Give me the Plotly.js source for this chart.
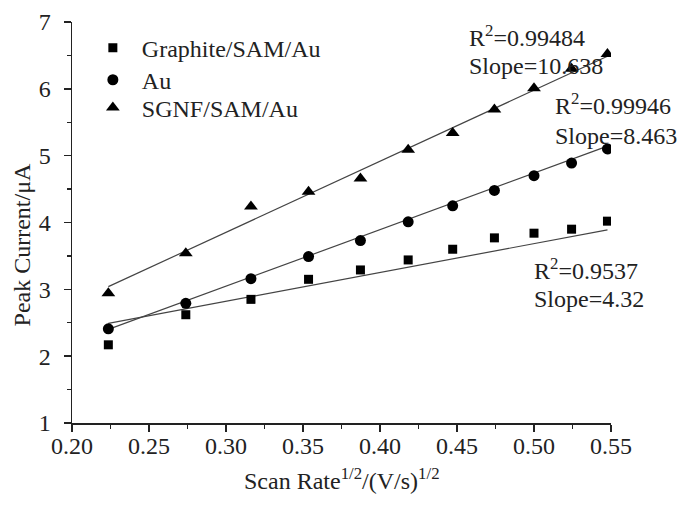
<!DOCTYPE html>
<html>
<head>
<meta charset="utf-8">
<script src="https://cdn.plot.ly/plotly-3.0.1.min.js"></script>
<style>html,body{margin:0;padding:0;background:#fff;}#chart{width:680px;height:506px;}</style>
</head>
<body>
<div id="chart"></div>
<script>
// Data
const scanRate = [0.2236, 0.2739, 0.3162, 0.3536, 0.3873, 0.4183, 0.4472, 0.4743, 0.5000, 0.5244, 0.5477];
const graphite = [2.17, 2.62, 2.85, 3.15, 3.29, 3.44, 3.60, 3.77, 3.84, 3.90, 4.02];
const au       = [2.41, 2.79, 3.16, 3.49, 3.73, 4.01, 4.25, 4.48, 4.70, 4.89, 5.10];
const sgnf     = [2.94, 3.54, 4.24, 4.46, 4.66, 5.09, 5.34, 5.69, 6.01, 6.30, 6.52];
const seriesNames = ["Graphite/SAM/Au", "Au", "SGNF/SAM/Au"];
// fit lines: value at first x and slope (from annotations)
const fitStart = [2.49, 2.40, 3.04];
const fitSlope = [4.32, 8.463, 10.638];
const r2Labels = ["0.9537", "0.99946", "0.99484"];
const slopeLabels = ["4.32", "8.463", "10.638"];

const FONT = "'Liberation Serif', 'DejaVu Serif', serif";
const FS = 24;
const ys = [graphite, au, sgnf];
const symbols = ["square", "circle", "triangle-up"];
const sizes = [9, 11, 12];
const legendIds = ["legend", "legend2", "legend3"];

const traces = [];
const xFit = [scanRate[0], scanRate[scanRate.length - 1]];
for (let i = 0; i < 3; i++) {
  traces.push({
    x: xFit,
    y: xFit.map(x => fitStart[i] + fitSlope[i] * (x - xFit[0])),
    mode: "lines", type: "scatter", showlegend: false, hoverinfo: "skip",
    line: {color: "#444", width: 1.2}
  });
}
for (let i = 0; i < 3; i++) {
  traces.push({
    x: scanRate, y: ys[i], name: seriesNames[i], legend: legendIds[i],
    mode: "markers", type: "scatter",
    marker: {symbol: symbols[i], size: sizes[i], color: "#000"}
  });
}

const annFont = {family: FONT, size: FS, color: "#222"};
function ann(x, y, text) {
  return {x: x, y: y, xref: "x", yref: "y", text: text, showarrow: false,
          xanchor: "left", yanchor: "middle", font: annFont};
}
function leg(y) {
  return {x: 0.022, y: y, xanchor: "left", yanchor: "middle", bgcolor: "rgba(0,0,0,0)",
          itemwidth: 48, font: {family: FONT, size: FS, color: "#222"}};
}
const layout = {
  width: 680, height: 506,
  margin: {l: 72, r: 69, t: 22, b: 83},
  paper_bgcolor: "#fff", plot_bgcolor: "#fff",
  font: {family: FONT, size: FS, color: "#222"},
  xaxis: {
    range: [0.2, 0.55], dtick: 0.05, tick0: 0.2, tickformat: ".2f",
    showgrid: false, zeroline: false, showline: true, linecolor: "#222", linewidth: 1.5,
    ticks: "outside", ticklen: 7, tickwidth: 1.5, tickcolor: "#222",
    ticklabelstandoff: -6,
    minor: {dtick: 0.025, ticks: "outside", ticklen: 4, tickwidth: 1.2, tickcolor: "#222", showgrid: false},
    tickfont: {family: FONT, size: FS, color: "#222"}
  },
  yaxis: {
    range: [1, 7], dtick: 1,
    showgrid: false, zeroline: false, showline: true, linecolor: "#222", linewidth: 1.5,
    ticks: "outside", ticklen: 7, tickwidth: 1.5, tickcolor: "#222",
    ticklabelstandoff: 8,
    minor: {dtick: 0.5, ticks: "outside", ticklen: 4, tickwidth: 1.2, tickcolor: "#222", showgrid: false},
    tickfont: {family: FONT, size: FS, color: "#222"}
  },
  showlegend: true,
  legend: leg(0.935),
  legend2: leg(0.855),
  legend3: leg(0.786),
  annotations: [
    ann(0.4565, 6.79, "R<sup>2</sup>=" + r2Labels[2]),
    ann(0.4565, 6.34, "Slope=" + slopeLabels[2]),
    ann(0.5123, 5.77, "R<sup>2</sup>=" + r2Labels[1]),
    ann(0.5123, 5.29, "Slope=" + slopeLabels[1]),
    ann(0.4987, 3.31, "R<sup>2</sup>=" + r2Labels[0]),
    ann(0.4987, 2.85, "Slope=" + slopeLabels[0]),
    {x: 0.5, y: -0.097, xref: "paper", yref: "paper", xanchor: "center", yanchor: "top",
     text: "Scan Rate<sup>1/2</sup>/(V/s)<sup>1/2</sup>", showarrow: false, font: annFont},
    {x: -0.093, y: 0.445, xref: "paper", yref: "paper", xanchor: "center", yanchor: "middle",
     text: "Peak Current/μA", textangle: -90, showarrow: false, font: annFont}
  ]
};
Plotly.newPlot("chart", traces, layout, {displayModeBar: false, staticPlot: true});
</script>
</body>
</html>
